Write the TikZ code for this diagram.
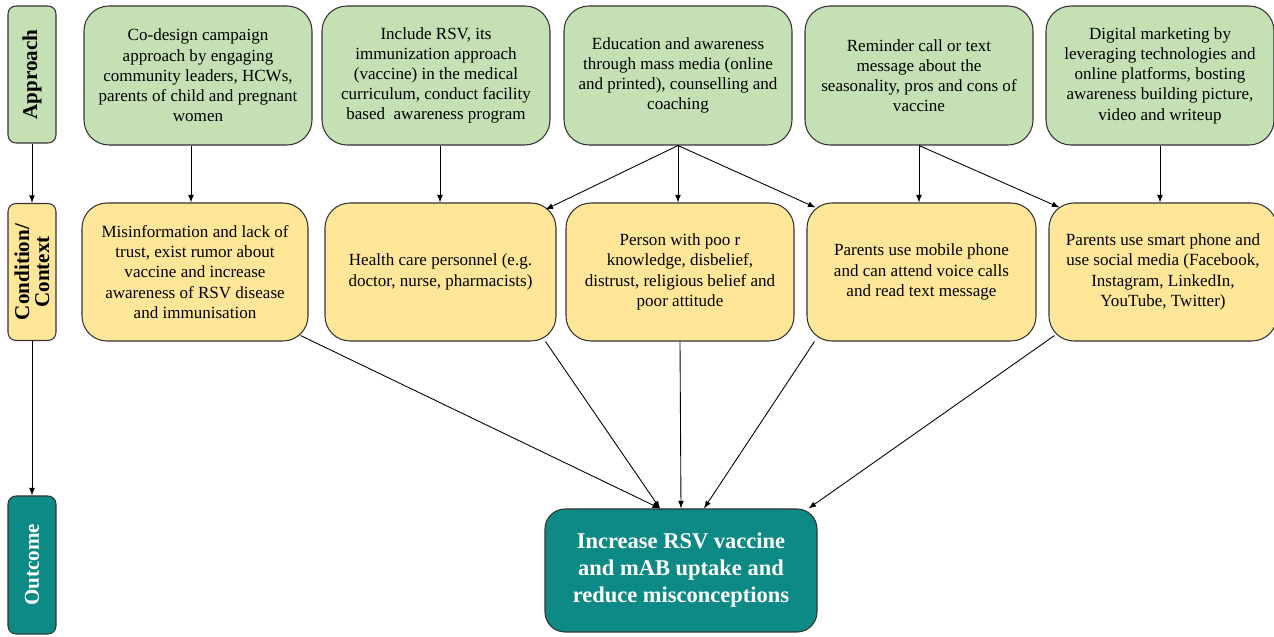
\documentclass[tikz,border=0pt]{standalone}
\usepackage{fontspec}
\setmainfont{Liberation Serif}
\definecolor{apgreen}{HTML}{C5E0B4}
\definecolor{ctyellow}{HTML}{FFE699}
\definecolor{outteal}{HTML}{0E8A86}
\begin{document}
\begin{tikzpicture}[>=latex,
  box/.style={draw=black!80, line width=.6pt, align=center, inner sep=2pt,
    font=\fontsize{9.7}{11.5}\selectfont},
  approach/.style={box, fill=apgreen, rounded corners=.5cm, minimum width=4.56cm, minimum height=2.78cm},
  context/.style={box, fill=ctyellow, rounded corners=.5cm, minimum height=2.76cm},
  tag/.style={draw=black!80, line width=.6pt, rounded corners=.16cm, rotate=90, align=center,
    minimum width=2.74cm, minimum height=.96cm, inner sep=1pt, font=\fontsize{12}{11.4}\selectfont\bfseries},
  link/.style={->, line width=.5pt}]
\useasboundingbox (0,0) rectangle (25.48,-12.74);
% left column
\node[tag, fill=apgreen] (lapp) at (.64,-1.49) {Approach};
\node[tag, fill=ctyellow] (lcon) at (.64,-5.44) {Condition/\\Context};
\node[tag, fill=outteal, text=white, minimum width=2.76cm] (lout) at (.64,-11.3) {Outcome};
\draw[link] (lapp) -- (lcon);
\draw[link] (lcon) -- (lout);
% approaches
\node[approach] (a1) at (3.96,-1.51) {Co-design campaign\\approach by engaging\\community leaders, HCWs,\\parents of child and pregnant\\women};
\node[approach] (a2) at (8.72,-1.51) {Include RSV, its\\immunization approach\\(vaccine) in the medical\\curriculum, conduct facility\\based\ \ awareness program};
\node[approach] (a3) at (13.56,-1.51) {Education and awareness\\through mass media (online\\and printed), counselling and\\coaching};
\node[approach] (a4) at (18.38,-1.51) {Reminder call or text\\message about the\\seasonality, pros and cons of\\vaccine};
\node[approach] (a5) at (23.2,-1.51) {Digital marketing by\\leveraging technologies and\\online platforms, bosting\\awareness building picture,\\video and writeup};
% conditions
\node[context, minimum width=4.52cm] (c1) at (3.9,-5.44) {Misinformation and lack of\\trust, exist rumor about\\vaccine and increase\\awareness of RSV disease\\and immunisation};
\node[context, minimum width=4.62cm] (c2) at (8.81,-5.44) {Health care personnel (e.g.\\doctor, nurse, pharmacists)};
\node[context, minimum width=4.56cm] (c3) at (13.6,-5.44) {Person with poo r\\knowledge, disbelief,\\distrust, religious belief and\\poor attitude};
\node[context, minimum width=4.58cm] (c4) at (18.43,-5.44) {Parents use mobile phone\\and can attend voice calls\\and read text message};
\node[context, minimum width=4.56cm] (c5) at (23.26,-5.44) {Parents use smart phone and\\use social media (Facebook,\\Instagram, LinkedIn,\\YouTube, Twitter)};
% outcome
\node[box, fill=outteal, text=white, rounded corners=.4cm, minimum width=5.44cm, minimum height=2.46cm,
  font=\fontsize{12.8}{15.4}\selectfont\bfseries] (out) at (13.62,-11.41) {Increase RSV vaccine\\and mAB uptake and\\reduce misconceptions};
% approach -> condition
\draw[link] ([xshift=-.14cm]a1.south) -- ([xshift=-.14cm]a1.south |- c1.north);
\draw[link] ([xshift=.08cm]a2.south) -- ([xshift=.08cm]a2.south |- c2.north);
\draw[link] (a3.south) -- ([xshift=-.22cm,yshift=-.14cm]c2.north east);
\draw[link] (a3.south) -- (a3.south |- c3.north);
\draw[link] (a3.south) -- ([xshift=.18cm,yshift=-.1cm]c4.north west);
\draw[link] (a4.south) -- (a4.south |- c4.north);
\draw[link] (a4.south) -- ([xshift=.22cm,yshift=-.1cm]c5.north west);
\draw[link] (a5.south) -- (a5.south |- c5.north);
% condition -> outcome
\draw[link] ([xshift=-.16cm,yshift=.12cm]c1.south east) -- ([xshift=-.42cm]out.north);
\draw[link] ([xshift=-.22cm]c2.south east) -- ([xshift=-.42cm]out.north);
\draw[link] (c3.south) -- (out.north);
\draw[link] ([xshift=.16cm]c4.south west) -- ([xshift=.46cm]out.north);
\draw[link] ([xshift=.12cm,yshift=.12cm]c5.south west) -- ([xshift=-.18cm]out.north east);
\end{tikzpicture}
\end{document}
